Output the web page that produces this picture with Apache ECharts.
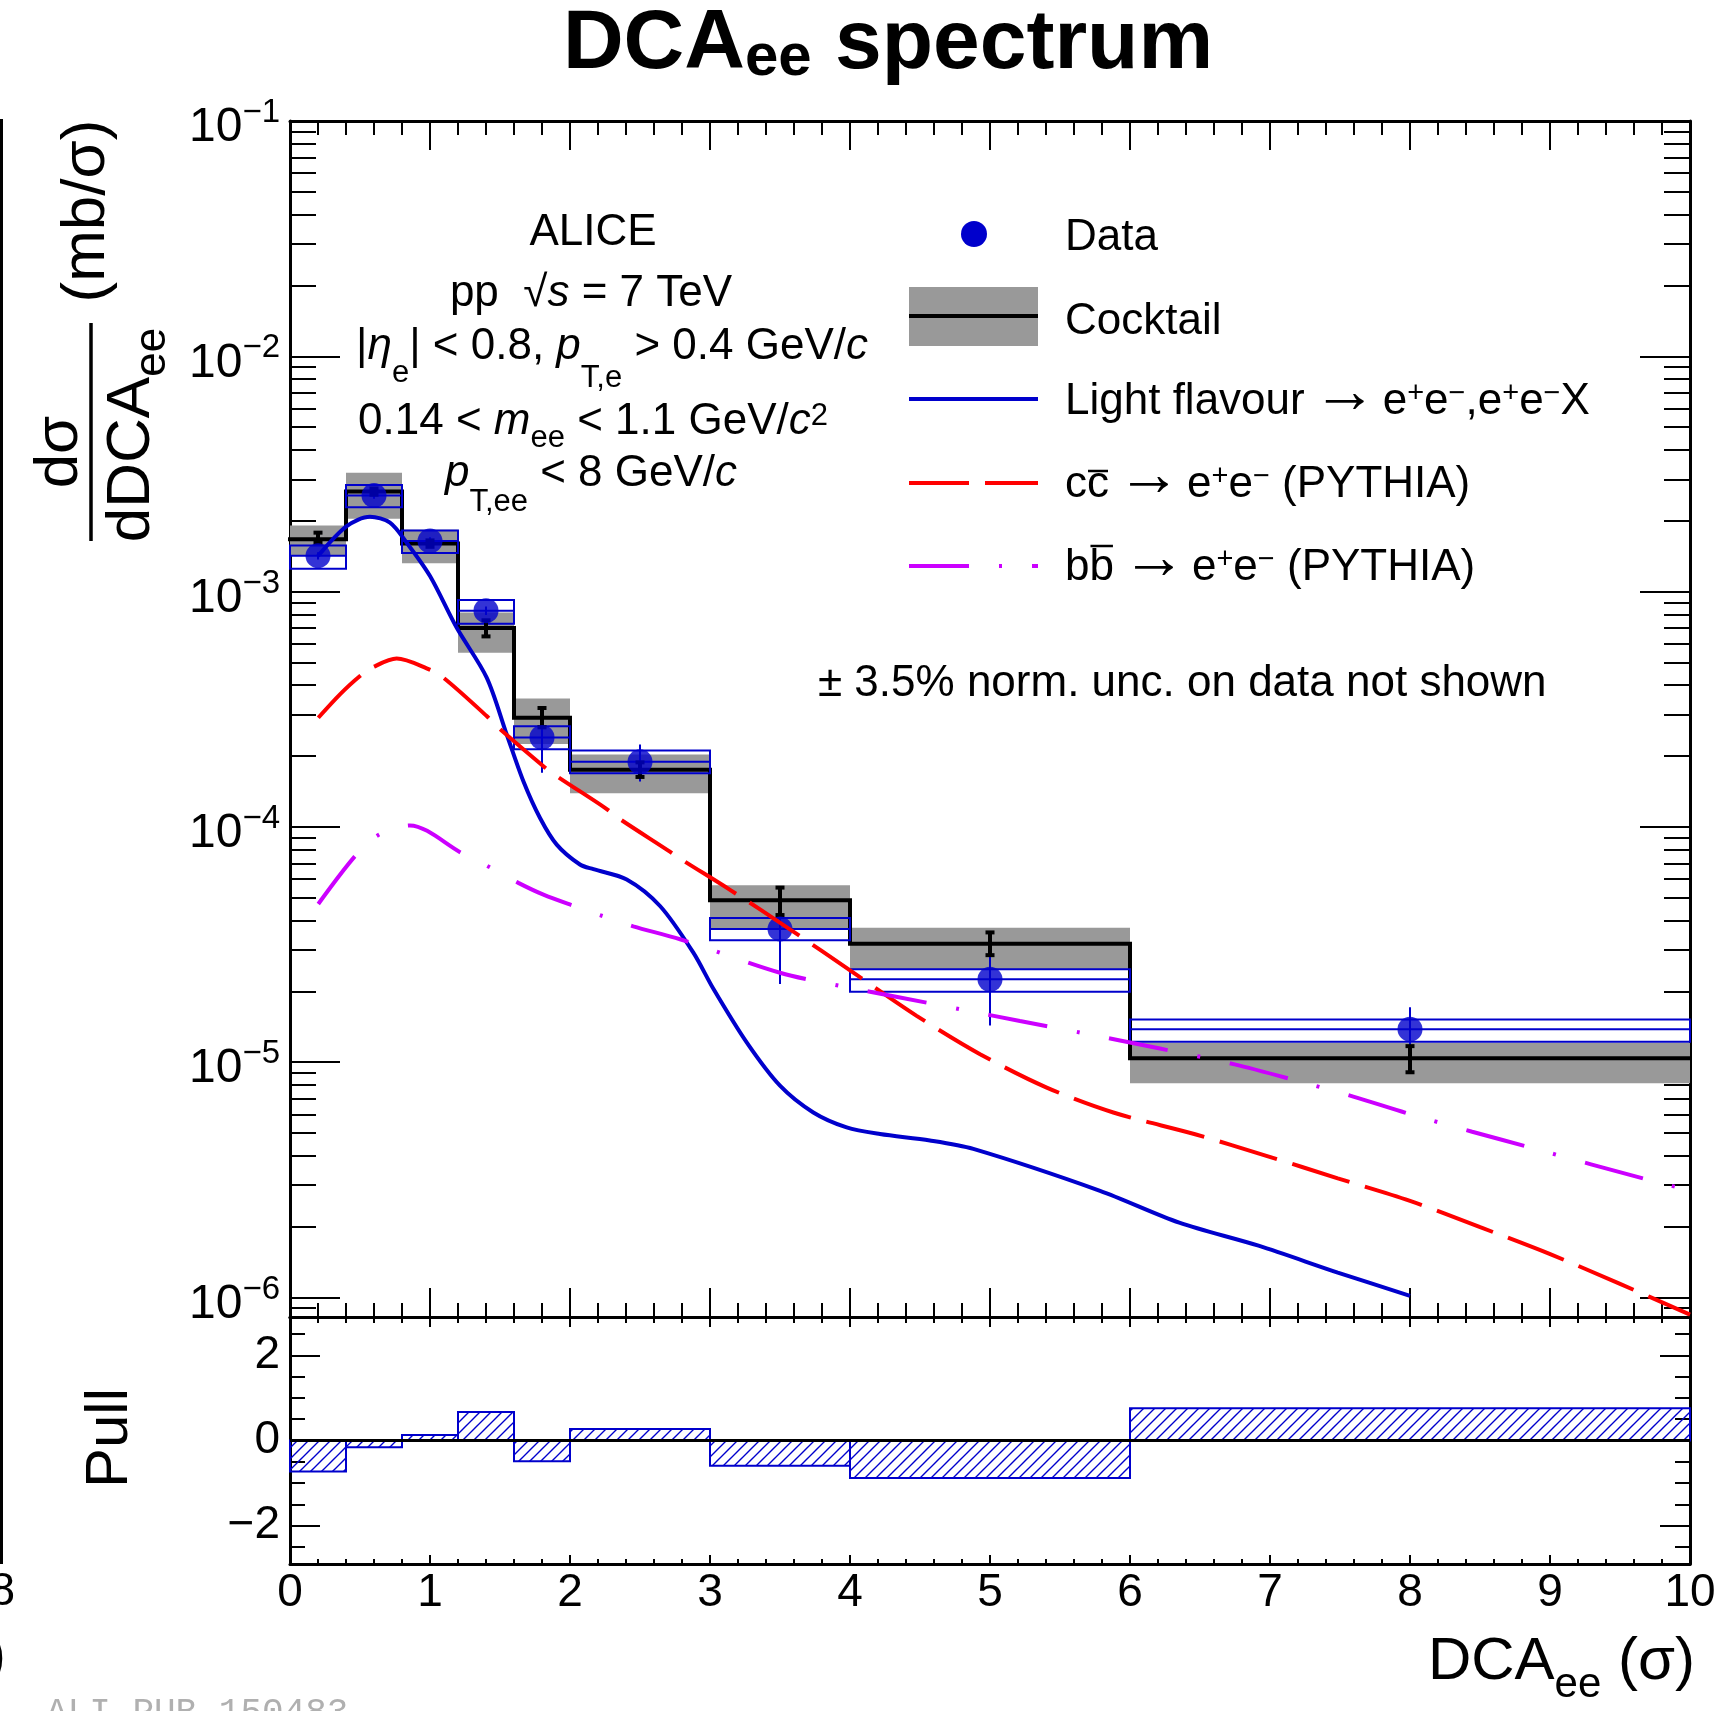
<!DOCTYPE html>
<html>
<head>
<meta charset="utf-8">
<title>DCAee spectrum</title>
<script src="https://cdn.jsdelivr.net/npm/echarts@6.0.0/dist/echarts.min.js"></script>
<style>
html, body { margin: 0; padding: 0; background: #ffffff; }
#chart { width: 1721px; height: 1711px; }
</style>
</head>
<body>
<div id="chart"></div>
<script>
// ---------------- binning ----------------
const binEdges   = [0, 0.4, 0.8, 1.2, 1.6, 2.0, 3.0, 4.0, 6.0, 10.0];
const binCenters = [0.2, 0.6, 1.0, 1.4, 1.8, 2.5, 3.5, 5.0, 8.0];

// ---------------- measured spectrum (mb/sigma) ----------------
const dataValues   = [1.42e-3, 2.56e-3, 1.64e-3, 8.3e-4, 2.40e-4, 1.89e-4, 3.68e-5, 2.25e-5, 1.38e-5];
const dataStatLow  = [1.37e-3, 2.48e-3, 1.58e-3, 7.95e-4, 1.70e-4, 1.56e-4, 2.15e-5, 1.43e-5, 1.05e-5];
const dataStatHigh = [1.47e-3, 2.64e-3, 1.70e-3, 8.65e-4, 3.15e-4, 2.24e-4, 5.28e-5, 3.03e-5, 1.71e-5];
const dataSysLow   = [1.25e-3, 2.28e-3, 1.46e-3, 7.3e-4, 2.14e-4, 1.69e-4, 3.30e-5, 1.99e-5, 1.22e-5];
const dataSysHigh  = [1.57e-3, 2.84e-3, 1.82e-3, 9.2e-4, 2.68e-4, 2.11e-4, 4.10e-5, 2.48e-5, 1.52e-5];

// ---------------- hadronic cocktail ----------------
const cocktail         = [1.67e-3, 2.66e-3, 1.60e-3, 7.0e-4, 2.91e-4, 1.75e-4, 4.88e-5, 3.19e-5, 1.04e-5];
const cocktailSysLow   = [1.42e-3, 2.04e-3, 1.32e-3, 5.50e-4, 2.25e-4, 1.39e-4, 3.70e-5, 2.48e-5, 8.13e-6];
const cocktailSysHigh  = [1.91e-3, 3.20e-3, 1.83e-3, 8.14e-4, 3.51e-4, 2.03e-4, 5.65e-5, 3.73e-5, 1.21e-5];
const cocktailStatLow  = [1.61e-3, 2.58e-3, 1.55e-3, 6.45e-4, 2.65e-4, 1.63e-4, 4.22e-5, 2.85e-5, 9.06e-6];
const cocktailStatHigh = [1.78e-3, 2.74e-3, 1.65e-3, 7.55e-4, 3.20e-4, 1.88e-4, 5.52e-5, 3.56e-5, 1.17e-5];

// ---------------- pull (data vs cocktail) ----------------
const pullValues = [-0.73, -0.16, 0.13, 0.67, -0.49, 0.27, -0.59, -0.88, 0.76];

// ---------------- contributions ----------------
const lightX = [0.20, 0.405, 0.571, 0.714, 0.833, 1.0, 1.19, 1.405, 1.548, 1.667, 1.786, 1.905, 2.071, 2.167, 2.405, 2.643, 2.881, 3.024, 3.262, 3.5, 3.738, 3.976, 4.214, 4.571, 4.881, 5.786, 6.352, 6.918, 7.484, 8.0];
const lightY = [1.416e-3, 1.897e-3, 2.080e-3, 1.963e-3, 1.614e-3, 1.164e-3, 7.03e-4, 4.31e-4, 2.47e-4, 1.563e-4, 1.091e-4, 8.41e-5, 6.92e-5, 6.61e-5, 5.98e-5, 4.61e-5, 2.92e-5, 2.05e-5, 1.213e-5, 7.94e-6, 6.11e-6, 5.28e-6, 4.95e-6, 4.65e-6, 4.28e-6, 2.84e-6, 2.08e-6, 1.66e-6, 1.276e-6, 1.016e-6];

const charmX = [0.202, 0.357, 0.5, 0.595, 0.762, 0.976, 1.095, 1.405, 1.488, 1.81, 1.905, 2.25, 2.345, 2.702, 2.798, 3.143, 3.571, 4.024, 4.476, 4.929, 5.405, 5.881, 6.465, 6.974, 7.484, 7.995, 8.501, 8.997, 9.492, 10.0];
const charmY = [2.91e-4, 3.66e-4, 4.38e-4, 4.78e-4, 5.19e-4, 4.72e-4, 4.31e-4, 2.96e-4, 2.64e-4, 1.81e-4, 1.644e-4, 1.205e-4, 1.091e-4, 7.93e-5, 7.26e-5, 5.40e-5, 3.67e-5, 2.40e-5, 1.574e-5, 1.081e-5, 7.80e-6, 6.11e-6, 4.94e-6, 4.00e-6, 3.21e-6, 2.58e-6, 1.99e-6, 1.531e-6, 1.148e-6, 8.45e-7];

const beautyX = [0.202, 0.464, 0.631, 0.857, 1.226, 1.429, 1.631, 1.81, 2.024, 2.238, 2.452, 2.786, 3.5, 3.929, 4.357, 4.786, 5.214, 5.643, 6.214, 6.747, 7.157, 7.595, 7.991, 8.444, 8.840, 9.293, 9.703, 9.92];
const beautyY = [4.70e-5, 7.50e-5, 9.23e-5, 1.014e-4, 7.74e-5, 6.73e-5, 5.78e-5, 5.15e-5, 4.62e-5, 4.17e-5, 3.78e-5, 3.33e-5, 2.40e-5, 2.11e-5, 1.884e-5, 1.679e-5, 1.496e-5, 1.337e-5, 1.143e-5, 9.79e-6, 8.45e-6, 7.14e-6, 6.04e-6, 5.06e-6, 4.37e-6, 3.68e-6, 3.16e-6, 2.93e-6];

// ---------------- axis ranges and ticks ----------------
const Y_MIN = 8.26e-7, Y_MAX = 0.1;
const yMajorTicks = [1e-6, 1e-5, 1e-4, 1e-3, 1e-2, 1e-1];
const yMinorTicks = [];
for (let e = -7; e <= -2; e++) {
  for (let m = 2; m <= 9; m++) {
    const v = m * Math.pow(10, e);
    if (v >= Y_MIN && v <= Y_MAX) yMinorTicks.push(v);
  }
}
const PULL_MIN = -2.9, PULL_MAX = 2.9;
const pullMajorTicks = [-2, 0, 2];
const pullMinorTicks = [-2.5, -1.5, -1, -0.5, 0.5, 1, 1.5, 2.5];

// ---------------- styling ----------------
const FONT = '"Liberation Sans", Arial, Helvetica, sans-serif';
const BLUE = '#0000cc';
const RED = '#ff0000';
const VIOLET = '#cc00ff';
const GREY = '#999999';
const L = 290, R = 1690, T = 121, MID = 1317, B = 1564;

function rf(size, extra) {
  return Object.assign({ fontSize: size, fontFamily: FONT, fill: '#000', fontWeight: 'normal', fontStyle: 'normal' }, extra || {});
}
function rfc(size, extra) {
  return Object.assign({ fontSize: size, fontFamily: FONT, color: '#000', fontWeight: 'normal', fontStyle: 'normal' }, extra || {});
}

// hatch pattern for the pull histogram
function makeHatch() {
  const s = 11;
  const c = document.createElement('canvas');
  c.width = s; c.height = s;
  const g = c.getContext('2d');
  g.strokeStyle = BLUE;
  g.lineWidth = 1.4;
  g.beginPath();
  g.moveTo(0, s); g.lineTo(s, 0);
  g.moveTo(-1, 1); g.lineTo(1, -1);
  g.moveTo(s - 1, s + 1); g.lineTo(s + 1, s - 1);
  g.stroke();
  return c;
}
const hatchCanvas = makeHatch();

// ---------------- axes ----------------
function xAx(grid, pos, major, minor, showLabel) {
  return {
    type: 'value', gridIndex: grid, position: pos, min: 0, max: 10, interval: 1,
    axisLine: { show: true, onZero: false, lineStyle: { color: '#000', width: 3 } },
    axisTick: { show: true, inside: true, length: major, lineStyle: { color: '#000', width: 2 } },
    minorTick: { show: true, splitNumber: 5, length: minor, lineStyle: { color: '#000', width: 2 } },
    splitLine: { show: false }, minorSplitLine: { show: false },
    axisLabel: showLabel ? { show: true, fontSize: 46, fontFamily: FONT, color: '#000', margin: 6 } : { show: false }
  };
}
function yLog(pos, ticks, len, showLine, withLabels) {
  return {
    type: 'log', logBase: 10, gridIndex: 0, position: pos, min: Y_MIN, max: Y_MAX,
    axisLine: { show: showLine, onZero: false, lineStyle: { color: '#000', width: 3 } },
    axisTick: { show: true, inside: true, length: len, customValues: ticks, lineStyle: { color: '#000', width: 2 } },
    minorTick: { show: false }, splitLine: { show: false }, minorSplitLine: { show: false },
    axisLabel: withLabels ? {
      show: true, customValues: yMajorTicks, margin: 10,
      formatter: function (v) {
        const e = Math.round(Math.log10(v));
        return '{b|10}{s|' + (e < 0 ? '\u2212' : '') + Math.abs(e) + '}';
      },
      rich: {
        b: rfc(48, { padding: [14, 0, 0, 0] }),
        s: rfc(33, { padding: [0, 0, 16, 0] })
      }
    } : { show: false }
  };
}
function yPull(pos, ticks, len, showLine, withLabels) {
  return {
    type: 'value', gridIndex: 1, position: pos, min: PULL_MIN, max: PULL_MAX,
    axisLine: { show: showLine, onZero: false, lineStyle: { color: '#000', width: 3 } },
    axisTick: { show: true, inside: true, length: len, customValues: ticks, lineStyle: { color: '#000', width: 2 } },
    minorTick: { show: false }, splitLine: { show: false }, minorSplitLine: { show: false },
    axisLabel: withLabels ? {
      show: true, customValues: pullMajorTicks, margin: 10, fontSize: 46, fontFamily: FONT, color: '#000',
      formatter: function (v) { return v < 0 ? '\u2212' + Math.abs(v) : String(v); }
    } : { show: false }
  };
}

// ---------------- derived series data ----------------
const bandData = cocktail.map((c, i) => [binEdges[i], binEdges[i + 1], cocktailSysLow[i], cocktailSysHigh[i]]);
const stepData = [];
cocktail.forEach((c, i) => { stepData.push([binEdges[i], c], [binEdges[i + 1], c]); });
const sysBoxData = dataValues.map((v, i) => [binEdges[i], binEdges[i + 1], dataSysLow[i], dataSysHigh[i], v]);
const statData = binCenters.map((x, i) => [x, dataStatLow[i], dataStatHigh[i]]);
const cocktailErrData = binCenters.map((x, i) => [x, cocktailStatLow[i], cocktailStatHigh[i]]);
const pointData = binCenters.map((x, i) => [x, dataValues[i]]);
const pullData = pullValues.map((p, i) => [binEdges[i], binEdges[i + 1], p]);
const zip = (xs, ys) => xs.map((x, i) => [x, ys[i]]);

const series = [
  { // cocktail systematic band
    type: 'custom', xAxisIndex: 0, yAxisIndex: 0, z: 1, silent: true, data: bandData,
    encode: { x: [0, 1], y: [2, 3] },
    renderItem: function (p, api) {
      const a = api.coord([api.value(0), api.value(3)]);
      const b = api.coord([api.value(1), api.value(2)]);
      return { type: 'rect', shape: { x: a[0], y: a[1], width: b[0] - a[0], height: b[1] - a[1] }, style: { fill: GREY } };
    }
  },
  { // cocktail histogram
    type: 'line', xAxisIndex: 0, yAxisIndex: 0, z: 2, data: stepData, symbol: 'none', silent: true,
    lineStyle: { color: '#000', width: 4, cap: 'square', join: 'miter' }
  },
  { // data systematic boxes
    type: 'custom', xAxisIndex: 0, yAxisIndex: 0, z: 3, silent: true, data: sysBoxData,
    encode: { x: [0, 1], y: [2, 3] },
    renderItem: function (p, api) {
      const a = api.coord([api.value(0), api.value(3)]);
      const b = api.coord([api.value(1), api.value(2)]);
      const m = api.coord([api.value(0), api.value(4)]);
      return {
        type: 'group', children: [
          { type: 'rect', shape: { x: a[0], y: a[1], width: b[0] - a[0], height: b[1] - a[1] }, style: { fill: 'none', stroke: BLUE, lineWidth: 2 } },
          { type: 'line', shape: { x1: a[0], y1: m[1], x2: b[0], y2: m[1] }, style: { stroke: BLUE, lineWidth: 2 } }
        ]
      };
    }
  },
  { // data statistical errors
    type: 'custom', xAxisIndex: 0, yAxisIndex: 0, z: 4, silent: true, data: statData,
    encode: { x: 0, y: [1, 2] },
    renderItem: function (p, api) {
      const lo = api.coord([api.value(0), api.value(1)]);
      const hi = api.coord([api.value(0), api.value(2)]);
      return { type: 'line', shape: { x1: lo[0], y1: lo[1], x2: hi[0], y2: hi[1] }, style: { stroke: BLUE, lineWidth: 2 } };
    }
  },
  { // cocktail statistical errors
    type: 'custom', xAxisIndex: 0, yAxisIndex: 0, z: 5, silent: true, data: cocktailErrData,
    encode: { x: 0, y: [1, 2] },
    renderItem: function (p, api) {
      const lo = api.coord([api.value(0), api.value(1)]);
      const hi = api.coord([api.value(0), api.value(2)]);
      const st = { stroke: '#000', lineWidth: 4 };
      return {
        type: 'group', children: [
          { type: 'line', shape: { x1: lo[0], y1: lo[1], x2: hi[0], y2: hi[1] }, style: st },
          { type: 'line', shape: { x1: lo[0] - 4.5, y1: lo[1], x2: lo[0] + 4.5, y2: lo[1] }, style: st },
          { type: 'line', shape: { x1: hi[0] - 4.5, y1: hi[1], x2: hi[0] + 4.5, y2: hi[1] }, style: st }
        ]
      };
    }
  },
  { // data points
    type: 'scatter', xAxisIndex: 0, yAxisIndex: 0, z: 6, silent: true, data: pointData,
    symbol: 'circle', symbolSize: 25, itemStyle: { color: BLUE }
  },
  { // light flavour
    type: 'line', xAxisIndex: 0, yAxisIndex: 0, z: 7, silent: true, data: zip(lightX, lightY),
    symbol: 'none', smooth: 0.3, lineStyle: { color: BLUE, width: 4 }
  },
  { // charm
    type: 'line', xAxisIndex: 0, yAxisIndex: 0, z: 7, silent: true, data: zip(charmX, charmY),
    symbol: 'none', smooth: 0.3, lineStyle: { color: RED, width: 4, type: [60, 16] }
  },
  { // beauty
    type: 'line', xAxisIndex: 0, yAxisIndex: 0, z: 7, silent: true, data: zip(beautyX, beautyY),
    symbol: 'none', smooth: 0.3, lineStyle: { color: VIOLET, width: 4, type: [60, 30, 3, 30] }
  },
  { // pull histogram
    type: 'custom', xAxisIndex: 2, yAxisIndex: 4, z: 3, silent: true, data: pullData,
    encode: { x: [0, 1], y: 2 },
    renderItem: function (p, api) {
      const v = api.value(2);
      const a = api.coord([api.value(0), Math.max(v, 0)]);
      const b = api.coord([api.value(1), Math.min(v, 0)]);
      return {
        type: 'rect', shape: { x: a[0], y: a[1], width: b[0] - a[0], height: b[1] - a[1] },
        style: { fill: { image: hatchCanvas, repeat: 'repeat' }, stroke: BLUE, lineWidth: 2 }
      };
    }
  },
  { // pull reference
    type: 'line', xAxisIndex: 2, yAxisIndex: 4, z: 4, silent: true, data: [[0, 0], [10, 0]],
    symbol: 'none', lineStyle: { color: '#000', width: 3 }
  }
];

// ---------------- text and legend ----------------
const F = 44;
const textRich = {
  n: rf(F), i: rf(F, { fontStyle: 'italic' }),
  e1: rf(31, { padding: [53, 0, 0, 0] }),
  e2: rf(31, { padding: [63, 0, 0, 0] }),
  e3: rf(31, { padding: [33, 0, 0, 0] }),
  e4: rf(31, { padding: [57, 0, 0, 0] }),
  sp: rf(31, { padding: [0, 0, 12, 0] })
};
const legRich = {
  n: rf(F),
  a: rf(64, { padding: [0, 6, 16, 8] }),
  sp: rf(29, { padding: [0, 0, 16, 0] })
};

function txt(x, y, text, rich, align, rot) {
  return {
    type: 'text', x: x, y: y, rotation: rot || 0, z: 50, silent: true,
    style: { text: text, align: align || 'center', verticalAlign: 'middle', rich: rich, fontFamily: FONT, fontSize: F, fill: '#000' }
  };
}

const measureCtx = document.createElement('canvas').getContext('2d');
measureCtx.font = F + 'px ' + FONT;
const wc = measureCtx.measureText('c').width;
const wb = measureCtx.measureText('b').width;

const LEG_X = 1065;
const ROT = Math.PI / 2;
const graphic = [
  // title
  txt(888, 45, '{t|DCA}{ts|ee}{t| spectrum}', { t: rf(84, { fontWeight: 'bold' }), ts: rf(60, { fontWeight: 'bold', padding: [27, 0, 0, 0] }) }),
  // collaboration / kinematics block
  txt(593, 233, '{n|ALICE}', textRich),
  txt(591, 294, '{n|pp  \u221A}{i|s}{n| = 7 TeV}', textRich),
  txt(612, 347, '{n||}{i|\u03B7}{e1|e}{n|| < 0.8, }{i|p}{e2|T,e}{n| > 0.4 GeV/}{i|c}', textRich),
  txt(593, 422, '{n|0.14 < }{i|m}{e3|ee}{n| < 1.1 GeV/}{i|c}{sp|2}', textRich),
  txt(591, 474, '{i|p}{e4|T,ee}{n| < 8 GeV/}{i|c}', textRich),
  // legend entries
  { type: 'circle', shape: { cx: 974, cy: 234, r: 13 }, style: { fill: BLUE }, z: 50, silent: true },
  txt(LEG_X, 238, '{n|Data}', legRich, 'left'),
  { type: 'rect', shape: { x: 909, y: 287, width: 129, height: 59 }, style: { fill: GREY }, z: 50, silent: true },
  { type: 'line', shape: { x1: 909, y1: 316, x2: 1038, y2: 316 }, style: { stroke: '#000', lineWidth: 4 }, z: 51, silent: true },
  txt(LEG_X, 322, '{n|Cocktail}', legRich, 'left'),
  { type: 'line', shape: { x1: 909, y1: 399, x2: 1038, y2: 399 }, style: { stroke: BLUE, lineWidth: 4 }, z: 50, silent: true },
  txt(LEG_X, 402, '{n|Light flavour}{a|\u2192}{n|e}{sp|+}{n|e}{sp|\u2212}{n|,e}{sp|+}{n|e}{sp|\u2212}{n|X}', legRich, 'left'),
  { type: 'line', shape: { x1: 909, y1: 483, x2: 1038, y2: 483 }, style: { stroke: RED, lineWidth: 4, lineDash: [60, 16] }, z: 50, silent: true },
  txt(LEG_X, 485, '{n|cc}{a|\u2192}{n|e}{sp|+}{n|e}{sp|\u2212}{n| (PYTHIA)}', legRich, 'left'),
  { type: 'line', shape: { x1: LEG_X + wc + 1, y1: 471, x2: LEG_X + 2 * wc - 1, y2: 471 }, style: { stroke: '#000', lineWidth: 2.5 }, z: 50, silent: true },
  { type: 'line', shape: { x1: 909, y1: 566, x2: 1038, y2: 566 }, style: { stroke: VIOLET, lineWidth: 4, lineDash: [60, 30, 3, 30] }, z: 50, silent: true },
  txt(LEG_X, 568, '{n|bb}{a|\u2192}{n|e}{sp|+}{n|e}{sp|\u2212}{n| (PYTHIA)}', legRich, 'left'),
  { type: 'line', shape: { x1: LEG_X + wb + 1, y1: 546, x2: LEG_X + 2 * wb - 1, y2: 546 }, style: { stroke: '#000', lineWidth: 2.5 }, z: 50, silent: true },
  txt(818, 684, '{n|\u00B1 3.5% norm. unc. on data not shown}', legRich, 'left'),
  // y-axis title: fraction and units
  txt(60, 452, '{m|d\u03C3}', { m: rf(62) }, 'center', ROT),
  { type: 'line', shape: { x1: 91, y1: 323, x2: 91, y2: 541 }, style: { stroke: '#000', lineWidth: 3.5 }, z: 50, silent: true },
  txt(131.5, 435, '{m|dDCA}{s|ee}', { m: rf(62), s: rf(44, { padding: [42, 0, 0, 0] }) }, 'center', ROT),
  txt(86.5, 211, '{m|(mb/\u03C3)}', { m: rf(62) }, 'center', ROT),
  // pull title
  txt(110, 1438, '{m|Pull}', { m: rf(60) }, 'center', ROT),
  // x-axis title
  txt(1695, 1662, '{m|DCA}{s|ee}{m| (\u03C3)}', { m: rf(60), s: rf(42, { padding: [46, 0, 0, 0] }) }, 'right'),
  // neighbouring frame edge
  { type: 'line', shape: { x1: 1.5, y1: 119, x2: 1.5, y2: 1564 }, style: { stroke: '#000', lineWidth: 3 }, z: 50, silent: true },
  txt(15, 1592, '{m|8}', { m: rf(46) }, 'right'),
  txt(6, 1657, '{m|)}', { m: rf(60) }, 'right'),
  // figure id
  {
    type: 'text', x: 46, y: 1695, z: 50, silent: true,
    style: { text: 'ALI-PUB-150483', fontFamily: '"Liberation Mono", "DejaVu Sans Mono", monospace', fontSize: 36, fill: '#b0b0b0', align: 'left', verticalAlign: 'top' }
  }
];

const option = {
  backgroundColor: '#ffffff',
  animation: false,
  grid: [
    { left: L, top: T, width: R - L, height: MID - T },
    { left: L, top: MID, width: R - L, height: B - MID }
  ],
  xAxis: [
    xAx(0, 'bottom', 29, 14, false),
    xAx(0, 'top', 29, 14, false),
    xAx(1, 'bottom', 9, 5, true),
    xAx(1, 'top', 10, 6, false)
  ],
  yAxis: [
    yLog('left', yMajorTicks, 50, true, true),
    yLog('left', yMinorTicks, 26, false, false),
    yLog('right', yMajorTicks, 50, true, false),
    yLog('right', yMinorTicks, 26, false, false),
    yPull('left', pullMajorTicks, 30, true, true),
    yPull('left', pullMinorTicks, 15, false, false),
    yPull('right', pullMajorTicks, 30, true, false),
    yPull('right', pullMinorTicks, 15, false, false)
  ],
  series: series,
  graphic: graphic
};

const chart = echarts.init(document.getElementById('chart'), null, { renderer: 'canvas', width: 1721, height: 1711 });
chart.setOption(option);
</script>
</body>
</html>
